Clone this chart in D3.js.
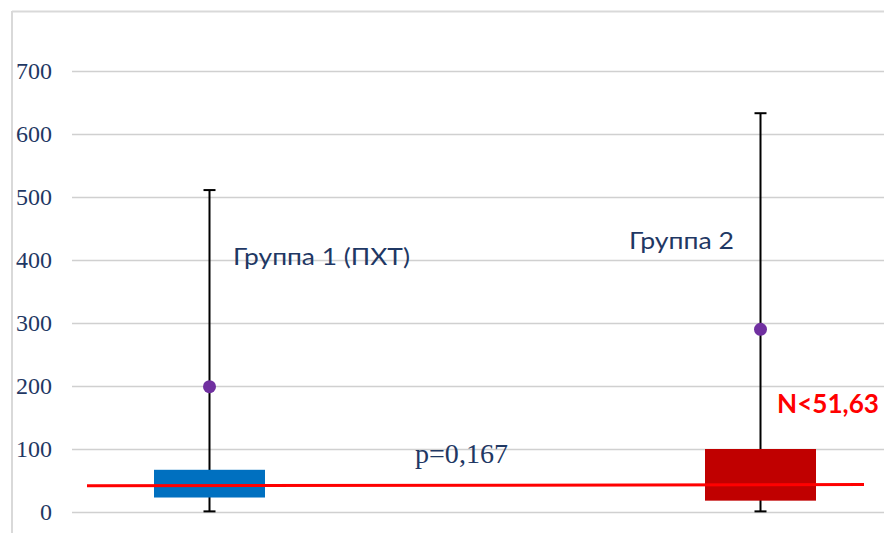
<!DOCTYPE html>
<html>
<head>
<meta charset="utf-8">
<script src="https://cdn.jsdelivr.net/npm/d3@7"></script>
<style>
  html, body { margin: 0; padding: 0; background: #fff; }
  svg { display: block; }
</style>
</head>
<body>
<svg id="chart" width="884" height="533"></svg>
<script>
// Groups and their box-plot statistics
const groups = ["Группа 1 (ПХТ)", "Группа 2"];
const whiskerLow = [1, 1];
const boxLow = [23, 18];
const boxHigh = [67, 100];
const whiskerHigh = [511, 633];
const means = [199, 290];
const boxColors = ["#0070C0", "#C00000"];

// Axis ticks
const yTicks = [0, 100, 200, 300, 400, 500, 600, 700];

// Reference level (red line) and annotations
const refLine = [41.5, 43.5];
const pLabel = "p=0,167";
const nLabel = "N<51,63";

const svg = d3.select("#chart");
const W = 884, H = 533;
const navy = "#1F3864";
const serif = "'Liberation Serif', 'Times New Roman', serif";

// Frame of the chart area
svg.append("line").attr("x1", 12).attr("x2", 12).attr("y1", 11).attr("y2", H)
  .attr("stroke", "#D9D9D9").attr("stroke-width", 2);
svg.append("line").attr("x1", 12).attr("x2", W).attr("y1", 11.5).attr("y2", 11.5)
  .attr("stroke", "#D9D9D9").attr("stroke-width", 2);

const y = d3.scaleLinear().domain([0, 700]).range([512, 71]);
const x = d3.scalePoint().domain(groups).range([209.5, 760.5]);
const boxW = 111;

// Gridlines + tick labels via axis
const axis = d3.axisLeft(y).tickValues(yTicks).tickSize(-(W - 72)).tickPadding(20).tickFormat(d3.format("d"));
const gAxis = svg.append("g").attr("transform", "translate(72,0)").call(axis)
  .attr("font-family", serif).attr("font-size", 24);
gAxis.select(".domain").remove();
gAxis.selectAll(".tick line").attr("stroke", "#D0D0D0").attr("stroke-width", 1.5);
gAxis.selectAll(".tick text")
  .attr("fill", navy)
  .style("font-family", serif)
  .style("font-size", "24px");

const g = svg.append("g");

// Whiskers
groups.forEach((k, i) => {
  const cx = x(k);
  g.append("line").attr("x1", cx).attr("x2", cx)
    .attr("y1", y(whiskerLow[i])).attr("y2", y(whiskerHigh[i]))
    .attr("stroke", "#000").attr("stroke-width", 2);
  [whiskerLow[i], whiskerHigh[i]].forEach(v => {
    g.append("line").attr("x1", cx - 6).attr("x2", cx + 6)
      .attr("y1", y(v)).attr("y2", y(v))
      .attr("stroke", "#000").attr("stroke-width", 2);
  });
});

// Boxes
g.selectAll("rect.box").data(groups).enter().append("rect")
  .attr("class", "box")
  .attr("x", d => x(d) - boxW / 2)
  .attr("width", boxW)
  .attr("y", (d, i) => y(boxHigh[i]))
  .attr("height", (d, i) => y(boxLow[i]) - y(boxHigh[i]))
  .attr("fill", (d, i) => boxColors[i]);

// Reference line
g.append("line")
  .attr("x1", 87).attr("x2", 864)
  .attr("y1", y(refLine[0])).attr("y2", y(refLine[1]))
  .attr("stroke", "#FF0000").attr("stroke-width", 3);

// Means
g.selectAll("circle.mean").data(groups).enter().append("circle")
  .attr("class", "mean")
  .attr("cx", d => x(d))
  .attr("cy", (d, i) => y(means[i]))
  .attr("r", 6.5)
  .attr("fill", "#7030A0");

// Group labels
const labelFont = "Lato, 'Open Sans', sans-serif";
g.append("text").text(groups[0])
  .attr("x", 233).attr("y", 265)
  .attr("fill", navy).attr("font-family", labelFont).attr("font-size", 23.5)
  .attr("textLength", 177).attr("lengthAdjust", "spacingAndGlyphs");
g.append("text").text(groups[1])
  .attr("x", 629).attr("y", 249)
  .attr("fill", navy).attr("font-family", labelFont).attr("font-size", 23.5)
  .attr("textLength", 105).attr("lengthAdjust", "spacingAndGlyphs");

// Annotations
g.append("text").text(pLabel)
  .attr("x", 415).attr("y", 463)
  .attr("fill", navy).attr("font-family", serif)
  .attr("font-size", 28).attr("textLength", 93).attr("lengthAdjust", "spacingAndGlyphs");
g.append("text").text(nLabel)
  .attr("x", 777).attr("y", 413)
  .attr("fill", "#FF0000").attr("font-family", labelFont).attr("font-weight", "bold")
  .attr("font-size", 26)
  .attr("textLength", 102).attr("lengthAdjust", "spacingAndGlyphs");
</script>
</body>
</html>
